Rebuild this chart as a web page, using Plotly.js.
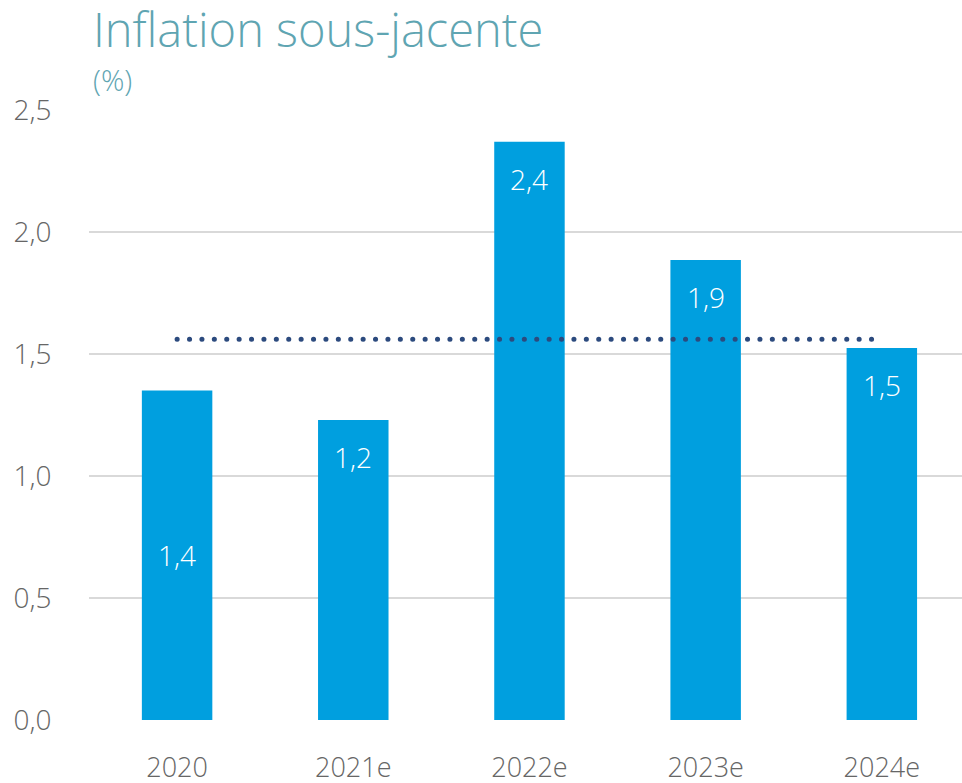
<!DOCTYPE html>
<html>
<head>
<meta charset="utf-8">
<script src="https://cdn.plot.ly/plotly-3.0.1.min.js"></script>
<style>html,body{margin:0;padding:0;background:#fff;}#chart{width:962px;height:783px;}</style>
</head>
<body>
<div id="chart"></div>
<script>
const categories = ["2020", "2021e", "2022e", "2023e", "2024e"];
const values = [1.35, 1.23, 2.37, 1.885, 1.525];
const labels = ["1,4", "1,2", "2,4", "1,9", "1,5"];
const averageX = ["2020", "2024e"];
const averageY = [1.56, 1.56];
const yTicks = [0, 0.5, 1.0, 1.5, 2.0, 2.5];
const yTickText = ["0,0", "0,5", "1,0", "1,5", "2,0", "2,5"];

const FONT = "'Open Sans', 'Segoe UI', sans-serif";
const W = 300;
const barColor = "#009FDF";

const annotations = categories.map((c, i) => {
  const mid = i === 0;
  return {
    x: i, y: mid ? values[i] / 2 : values[i],
    xref: "x", yref: "y",
    text: labels[i], showarrow: false,
    yanchor: "middle", yshift: mid ? 0 : -37,
    font: {family: FONT, size: 28, color: "#ffffff", weight: W}
  };
});
annotations.push({
  text: "Inflation sous-jacente", xref: "paper", yref: "paper",
  x: 0.003, y: 1, xanchor: "left", yanchor: "middle", yshift: 81,
  showarrow: false, borderpad: 0, font: {family: FONT, size: 47, color: "#5FA5B2", weight: W}
});
annotations.push({
  text: "(%)", xref: "paper", yref: "paper",
  x: 0.003, y: 1, xanchor: "left", yanchor: "middle", yshift: 31,
  showarrow: false, borderpad: 0, font: {family: FONT, size: 29, color: "#5FA5B2", weight: W}
});

const data = [
  {type: "bar", x: categories, y: values, width: 0.4,
   marker: {color: barColor}, hoverinfo: "skip", showlegend: false},
  {type: "scatter", mode: "lines", x: averageX, y: averageY,
   line: {color: "#2C4A7E", width: 5, dash: "0.1px,12.3px"},
   hoverinfo: "skip", showlegend: false}
];

const layout = {
  width: 962, height: 783,
  margin: {l: 89, r: 0, t: 110, b: 63},
  paper_bgcolor: "#ffffff", plot_bgcolor: "#ffffff",
  separators: ", ",
  xaxis: {
    type: "category", range: [-0.5, 4.455],
    showgrid: false, showline: false, zeroline: false,
    ticks: "outside", ticklen: 24, tickcolor: "rgba(0,0,0,0)",
    tickfont: {family: FONT, size: 27, color: "#666666", weight: W}
  },
  yaxis: {
    range: [0, 2.5], tickvals: yTicks, ticktext: yTickText,
    showgrid: true, gridcolor: "#D9D9D9", gridwidth: 2,
    zeroline: false, showline: false,
    ticks: "outside", ticklen: 31, tickcolor: "rgba(0,0,0,0)",
    tickfont: {family: FONT, size: 28, color: "#666666", weight: W}
  },
  annotations: annotations
};

Plotly.newPlot("chart", data, layout, {staticPlot: true}).then(() => {
  document.querySelectorAll(".scatterlayer path.js-line").forEach(p => {
    p.style.strokeLinecap = "round";
  });
});
</script>
</body>
</html>
